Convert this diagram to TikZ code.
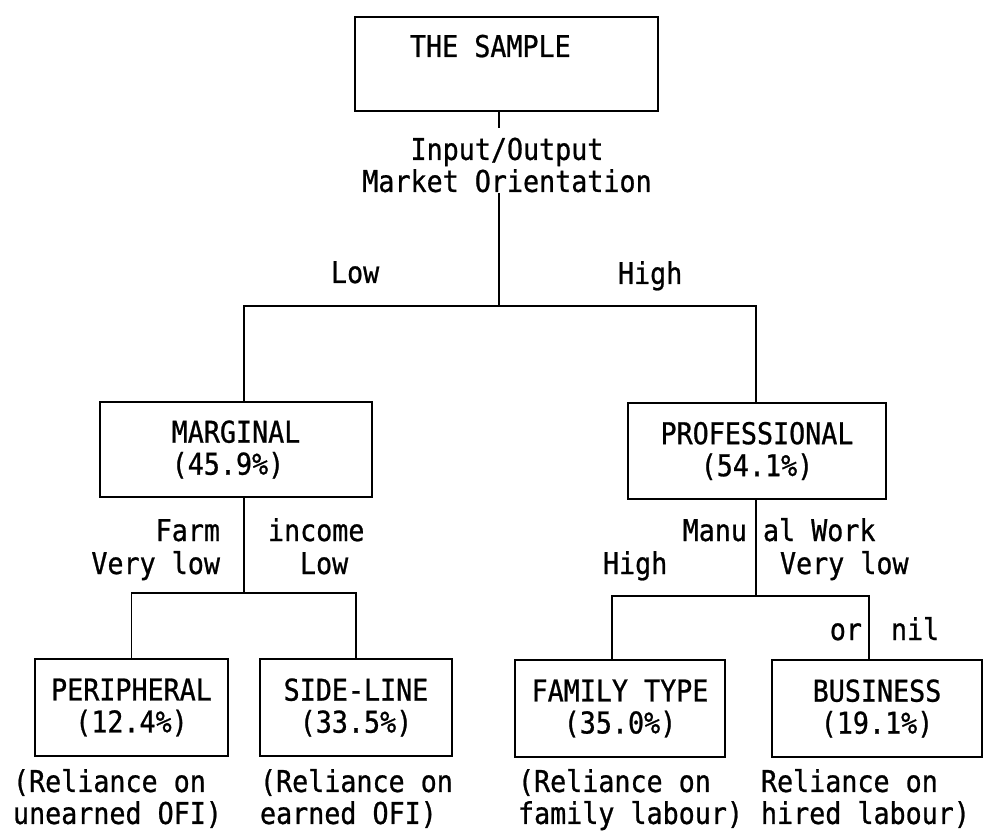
\documentclass[tikz,border=0pt]{standalone}
\usepackage{fontspec}
\newfontfamily\tw{DejaVu Sans Mono}[FakeStretch=0.89,FakeBold=0.8]
\begin{document}
\begin{tikzpicture}[x=1pt,y=-1pt,
  every node/.style={font=\tw\fontsize{30}{32}\selectfont, inner sep=0pt, outer sep=0pt},
  box/.style={draw, line width=1.6pt, align=center},
  conn/.style={line width=1.6pt}]
\useasboundingbox (0,0) rectangle (988,834);

% boxes
\node[box, minimum width=303pt, minimum height=94pt] (sample) at (506.5,64) {};
\node[anchor=base west] (sampletxt) at (410,57) {THE SAMPLE};
\node[box, align=left, minimum width=272pt, minimum height=95pt] (marg) at (236,449.5) {MARGINAL\\(45.9\%)};
\node[box, minimum width=258pt, minimum height=96pt] (prof) at (757,451) {PROFESSIONAL\\(54.1\%)};
\node[box, minimum width=193pt, minimum height=97pt] (peri) at (131.5,707.5) {PERIPHERAL\\(12.4\%)};
\node[box, minimum width=192pt, minimum height=97pt] (side) at (356,707.5) {SIDE-LINE\\(33.5\%)};
\node[box, minimum width=210pt, minimum height=97pt] (fam) at (620,708.5) {FAMILY TYPE\\(35.0\%)};
\node[box, minimum width=210pt, minimum height=97pt] (bus) at (877,708.5) {BUSINESS\\(19.1\%)};

% junctions
\coordinate (jA) at (499,306);
\coordinate (jAt) at (499,128);
\coordinate (jAb) at (499,193);
\coordinate (jM) at (244,593);
\coordinate (jP) at (756,596);
\coordinate (jF) at (612,596);
\coordinate (jB) at (869,596);

% connectors
\draw[conn] (sample.south -| jA) -- (jAt);
\draw[conn] (jAb) -- (jA);
\draw[conn] (marg.north -| jM) -- (jM |- jA) -- (jP |- jA) -- (prof.north -| jP);
\draw[conn] (marg.south -| jM) -- (jM);
\draw[conn] (peri.north) |- (jM) -| (side.north);
\draw[conn] (prof.south -| jP) -- (jP);
\draw[conn] (fam.north -| jF) -- (jF) -- (jB) -- (bus.north -| jB);

% labels
\node[align=center] (orient) at (507,165) {Input/Output\\Market Orientation};
\node[anchor=base west] (low1) at (331,283) {Low};
\node[anchor=base west] (high1) at (618,284) {High};
\node[anchor=base east] (farm) at (220,541) {Farm};
\node[anchor=base east] (vlow1) at (220,574) {Very low};
\node[anchor=base west] (income) at (268,541) {income};
\node[anchor=base west] (low2) at (300,574) {Low};
\node[anchor=base east] (manu) at (747,541) {Manu};
\node[anchor=base west] (alwork) at (763,541) {al Work};
\node[anchor=base west] (high2) at (603,574) {High};
\node[anchor=base west] (vlow2) at (780,574) {Very low};
\node[anchor=base east] (or) at (862,640) {or};
\node[anchor=base west] (nil) at (891,640) {nil};

% annotations
\node[align=left, anchor=north west] (an1) at (13,769) {(Reliance on\\unearned OFI)};
\node[align=left, anchor=north west] (an2) at (260,769) {(Reliance on\\earned OFI)};
\node[align=left, anchor=north west] (an3) at (518,769) {(Reliance on\\family labour)};
\node[align=left, anchor=north west] (an4) at (761,769) {Reliance on\\hired labour)};
\end{tikzpicture}
\end{document}
